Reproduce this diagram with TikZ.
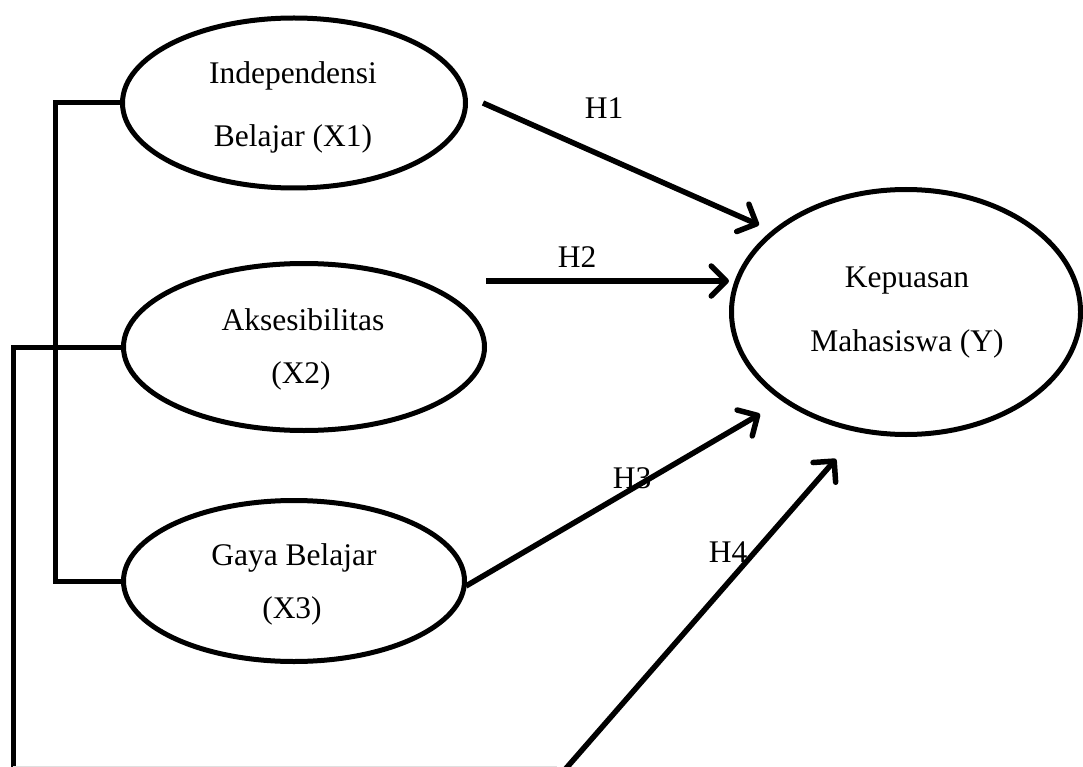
\documentclass[tikz,border=0pt]{standalone}
\usepackage{fontspec}
\setmainfont{Liberation Serif}
\usetikzlibrary{shapes.geometric,arrows.meta}
\begin{document}
\begin{tikzpicture}[x=1pt,y=-1pt,
  oval/.style={draw=black,line width=5pt,ellipse,inner sep=0pt},
  txt/.style={anchor=base,inner sep=0pt,font=\fontsize{31.5}{37}\selectfont},
  link/.style={draw=black,line width=5pt},
  arr/.style={draw=black,line width=5.5pt,-{Straight Barb[length=15pt,width=30pt,line cap=round,line join=round]}}]
\useasboundingbox (0,0) rectangle (1083,767);
% ellipses
\node[oval,minimum width=343pt,minimum height=170pt] (e1) at (294,103) {};
\node[oval,minimum width=361pt,minimum height=167pt] (e2) at (304,347) {};
\node[oval,minimum width=341pt,minimum height=161pt] (e3) at (294,581) {};
\node[oval,minimum width=349pt,minimum height=245pt] (y) at (906,312) {};
% texts
\node[txt] (t1a) at (293,84) {Independensi};
\node[txt] (t1b) at (293,147) {Belajar (X1)};
\node[txt] (t2a) at (303,330) {Aksesibilitas};
\node[txt] (t2b) at (301,383) {(X2)};
\node[txt] (t3a) at (294,565) {Gaya Belajar};
\node[txt] (t3b) at (292,618) {(X3)};
\node[txt] (tya) at (907,287) {Kepuasan};
\node[txt] (tyb) at (907,351) {Mahasiswa (Y)};
% labels
\node[txt] (h1) at (604,119) {H1};
\node[txt] (h2) at (577,267) {H2};
\node[txt] (h3) at (632,488) {H3};
\node[txt] (h4) at (728,562) {H4};
% arrow end points
\coordinate (a1s) at (483,103);
\coordinate (a1e) at (759,225);
\coordinate (a2s) at (486,281);
\coordinate (a2e) at (729,281);
\coordinate (a3s) at (466,586);
\coordinate (a3e) at (760,414);
\coordinate (a4s) at (562,773);
\coordinate (a4e) at (836,459);
\draw[arr] (a1s) -- (a1e);
\draw[arr] (a2s) -- (a2e);
\draw[arr] (a3s) -- (a3e);
\draw[arr] (a4s) -- (a4e);
% brackets
\draw[link] (e1.west) -- ++(-65,0) |- (e3.west);
\coordinate (cb) at (13,775);
\draw[link] (e2.west) -| (cb);
\coordinate (gl0) at (13,766);
\coordinate (gl1) at (557,766);
\draw[gray!25,line width=1pt] (gl0) -- (gl1);
\end{tikzpicture}
\end{document}
